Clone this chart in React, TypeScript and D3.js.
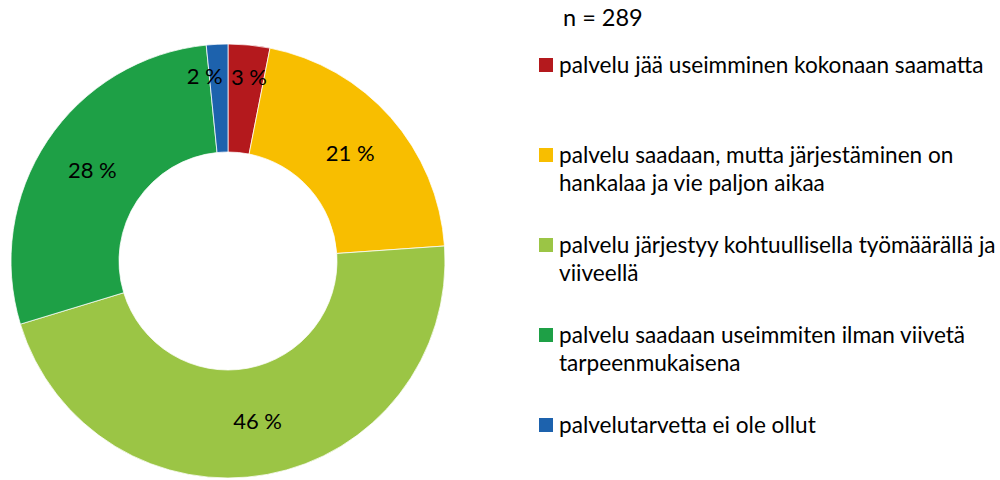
import React from "react";
import * as d3 from "d3";

const categories = [
  "palvelu jää useimminen kokonaan saamatta",
  "palvelu saadaan, mutta järjestäminen on hankalaa ja vie paljon aikaa",
  "palvelu järjestyy kohtuullisella työmäärällä ja viiveellä",
  "palvelu saadaan useimmiten ilman viivetä tarpeenmukaisena",
  "palvelutarvetta ei ole ollut",
];
const legendLines = [
  ["palvelu jää useimminen kokonaan saamatta"],
  ["palvelu saadaan, mutta järjestäminen on", "hankalaa ja vie paljon aikaa"],
  ["palvelu järjestyy kohtuullisella työmäärällä ja", "viiveellä"],
  ["palvelu saadaan useimmiten ilman viivetä", "tarpeenmukaisena"],
  ["palvelutarvetta ei ole ollut"],
];
const values = [3.1, 20.8, 46.4, 28.1, 1.6];
const colors = ["#B4191D", "#F8BE00", "#9BC545", "#1EA046", "#1D62AD"];
const nLabel = "n = 289";

const W = 1000;
const H = 480;
const FONT = "Lato, 'Open Sans', sans-serif";

export default function App() {
  const cx = 228;
  const cy = 261;
  const R = 217;
  const r = 109;

  const pie = d3
    .pie<number>()
    .sort(null)
    .value((d) => d)
    .startAngle(0)
    .endAngle(2 * Math.PI);
  const arcs = pie(values);
  const arc = d3.arc<d3.PieArcDatum<number>>().innerRadius(r).outerRadius(R);
  const smallArc = d3
    .arc<d3.PieArcDatum<number>>()
    .innerRadius(185)
    .outerRadius(185);
  const total = d3.sum(values);
  const fmt = (v: number) => `${Math.round((v / total) * 100)} %`;

  const legendY = d3
    .scalePoint<number>()
    .domain(d3.range(categories.length))
    .range([65, 425]);

  return (
    <svg
      width={W}
      height={H}
      style={{ position: "absolute", left: 0, top: 0, background: "#fff" }}
      fontFamily={FONT}
    >
      <g transform={`translate(${cx},${cy})`}>
        {arcs.map((a, i) => (
          <path
            key={i}
            d={arc(a) || ""}
            fill={colors[i]}
            stroke="#ffffff"
            strokeWidth={0.75}
          />
        ))}
        {arcs.map((a, i) => {
          const share = a.value / total;
          const small = share < 0.05;
          const [x, y] = small ? smallArc.centroid(a) : arc.centroid(a);
          const mid = (a.startAngle + a.endAngle) / 2;
          const left = mid > Math.PI;
          const anchor = small && left ? "end" : "middle";
          const dx = small ? (left ? 4 : 3) : 0;
          return (
            <text
              key={i}
              x={x + dx}
              y={y}
              dy="0.35em"
              textAnchor={anchor}
              fontSize={22}
              fill="#000"
            >
              {fmt(a.value)}
            </text>
          );
        })}
      </g>
      <text x={563} y={18} dy="0.35em" fontSize={23.5} fill="#000">
        {nLabel}
      </text>
      {legendLines.map((lines, i) => {
        const y0 = legendY(i) as number;
        return (
          <g key={i}>
            <rect x={539} y={y0 - 7} width={14} height={14} fill={colors[i]} />
            {lines.map((ln, j) => (
              <text
                key={j}
                x={559}
                y={y0 + j * 28}
                dy="0.35em"
                fontSize={22.6}
                fill="#000"
              >
                {ln}
              </text>
            ))}
          </g>
        );
      })}
    </svg>
  );
}
